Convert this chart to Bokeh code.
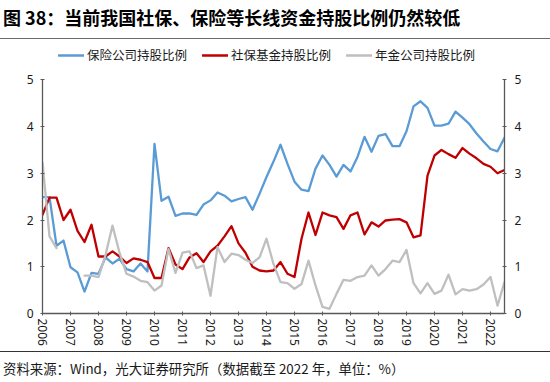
import math
from bokeh.plotting import figure
from bokeh.layouts import column
from bokeh.models import (Range1d, LinearAxis, Legend, LegendItem, Div,
                          FixedTicker)
from bokeh.embed import file_html
from bokeh.resources import INLINE

nan = float("nan")

# quarterly observations, 2006Q1 .. 2022Q3
quarters = [2006 + k / 4 for k in range(67)]
year_ticks = list(range(2006, 2023))
value_ticks = [0, 1, 2, 3, 4, 5]

insurance = [2.49, 2.49, 1.45, 1.56, 0.99, 0.88, 0.47, 0.87, 0.85, 1.20,
             1.07, 1.17, 0.95, 0.90, 1.07, 0.90, 3.63, 2.41, 2.50, 2.09,
             2.14, 2.14, 2.11, 2.33, 2.42, 2.59, 2.52, 2.40, 2.45, 2.49,
             2.22, 2.56, 2.92, 3.25, 3.61, 3.20, 2.82, 2.65, 2.62, 3.10,
             3.38, 3.18, 2.93, 3.18, 3.04, 3.35, 3.78, 3.46, 3.80, 3.84,
             3.58, 3.58, 3.90, 4.43, 4.54, 4.40, 4.02, 4.02, 4.06, 4.32,
             4.19, 4.05, 3.85, 3.68, 3.52, 3.47, 3.76]

social = [2.11, 2.48, 2.48, 2.00, 2.22, 1.77, 1.53, 1.90, 1.22, 1.22,
          1.33, 1.22, 1.08, 1.18, 1.15, 1.10, 0.76, 0.76, 1.40, 1.05,
          0.95, 1.20, 1.29, 1.10, 1.33, 1.45, 1.65, 1.87, 1.50, 1.30,
          1.00, 0.92, 0.90, 0.92, 1.10, 0.85, 0.78, 1.60, 2.16, 1.68,
          2.16, 2.10, 2.06, 1.81, 2.10, 2.16, 1.69, 1.95, 1.86, 1.99,
          2.01, 2.02, 1.95, 1.63, 1.67, 2.95, 3.38, 3.50, 3.41, 3.33,
          3.54, 3.42, 3.32, 3.20, 3.14, 3.00, 3.07]

pension = [3.23, 1.65, 1.40, nan, nan, nan, 0.81, 0.81, 0.78, 1.25,
           1.88, 1.30, 0.85, 0.79, 0.70, 0.67, 0.49, 0.60, 1.38, 0.87,
           1.30, 1.33, 0.97, 1.03, 0.38, 1.42, 1.10, 1.28, 1.25, 1.15,
           1.08, 1.20, 1.60, 1.06, 0.67, 0.65, 0.53, 0.63, 1.13, 0.60,
           0.14, 0.10, 0.42, 0.72, 0.70, 0.78, 0.81, 1.03, 0.81, 0.95,
           1.13, 1.10, 1.36, 0.65, 0.43, 0.65, 0.42, 0.49, 0.83, 0.41,
           0.52, 0.49, 0.52, 0.62, 0.78, 0.17, 0.67]

series_names = ["保险公司持股比例", "社保基金持股比例", "年金公司持股比例"]
series_colors = ["#5B9BD5", "#C00000", "#BFBFBF"]

title_text = "图 38：当前我国社保、保险等长线资金持股比例仍然较低"
source_text = "资料来源：Wind，光大证券研究所（数据截至 2022 年，单位：%）"

CJK = "Noto Sans CJK SC"
NUM = "Noto Sans"
AXIS_COLOR = "#595959"
LW = 2.3

W = 550
TITLE_H, MAIN_H, FOOT_H = 39, 312, 31
FRAME_H = 274
BORDER_L, FRAME_W = 42, 462
PX_PER_UNIT = 46.74
Y_TOP = FRAME_H / PX_PER_UNIT

# ---------------- title ----------------
title_div = Div(text=title_text, width=W, height=TITLE_H,
                styles={"font-family": CJK, "font-size": "18px",
                        "font-weight": "bold", "color": "#000000",
                        "line-height": "20px", "box-sizing": "border-box",
                        "border-bottom": "1.5px solid #6b6b6b",
                        "margin": "0", "padding": "7px 0 0 3px",
                        "white-space": "nowrap", "overflow": "visible"})

# ---------------- main chart ----------------
p = figure(width=W, height=MAIN_H, output_backend="svg", toolbar_location=None,
           x_range=Range1d(2006, 2022.5), y_range=Range1d(0, Y_TOP),
           min_border_left=BORDER_L, min_border_right=W - BORDER_L - FRAME_W,
           min_border_top=0, min_border_bottom=MAIN_H - FRAME_H,
           background_fill_color="white", border_fill_color="white")
p.outline_line_color = None
p.xgrid.visible = False
p.ygrid.visible = False

renderers = []
for data, color in zip([insurance, social, pension], series_colors):
    r = p.line(quarters, data, line_color=color, line_width=LW,
               line_join="round", line_cap="round")
    renderers.append(r)

right_axis = LinearAxis()
p.add_layout(right_axis, "right")

for ax, standoff in [(p.yaxis[0], 7), (right_axis, 8)]:
    ax.ticker = FixedTicker(ticks=value_ticks)
    ax.bounds = (0, 5)
    ax.minor_tick_line_color = None
    ax.major_label_standoff = standoff

p.xaxis.ticker = FixedTicker(ticks=year_ticks)
p.xaxis.major_label_orientation = -math.pi / 2
p.xaxis.minor_tick_line_color = None
p.xaxis.major_label_standoff = 3

for ax in list(p.xaxis) + list(p.yaxis):
    ax.axis_line_color = AXIS_COLOR
    ax.axis_line_width = 1.3
    ax.major_tick_line_color = AXIS_COLOR
    ax.major_tick_line_width = 1
    ax.major_tick_in = 2
    ax.major_tick_out = 2
    ax.major_label_text_font = NUM
    ax.major_label_text_font_size = "12px"
    ax.major_label_text_color = "#1a1a1a"

legend = Legend(items=[LegendItem(label=n, renderers=[r])
                       for n, r in zip(series_names, renderers)],
                orientation="horizontal", location=(16, 249),
                label_text_font=CJK, label_text_font_size="12.5px",
                label_text_color="#1a1a1a", glyph_width=26, glyph_height=14,
                label_height=14, label_standoff=3, spacing=15, padding=0,
                margin=0, border_line_alpha=0, background_fill_alpha=0)
p.add_layout(legend, "center")

# ---------------- source ----------------
foot_div = Div(text=source_text, width=W, height=FOOT_H,
               styles={"font-family": CJK, "font-size": "13.4px",
                       "color": "#1a1a1a", "line-height": "15px",
                       "box-sizing": "border-box",
                       "border-top": "1.3px solid #333333",
                       "margin": "0", "padding": "9px 0 0 3px",
                       "white-space": "nowrap", "overflow": "visible"})

layout = column(title_div, p, foot_div, spacing=0)
open("out.html", "w").write(file_html(layout, INLINE))
